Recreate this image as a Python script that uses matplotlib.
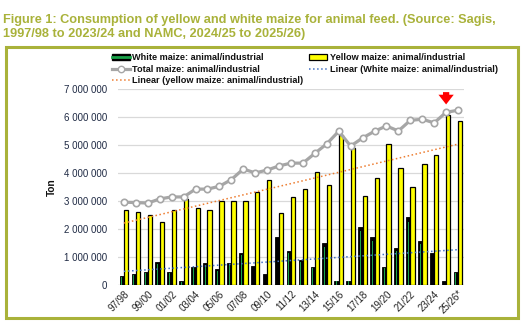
import numpy as np
import matplotlib
matplotlib.use("Agg")
import matplotlib.pyplot as plt
from matplotlib.patches import Patch, Rectangle
from matplotlib.lines import Line2D
from matplotlib.legend_handler import HandlerTuple

# seasons 1997/98 .. 2025/26*
seasons = ["97/98", "98/99", "99/00", "00/01", "01/02", "02/03", "03/04", "04/05",
           "05/06", "06/07", "07/08", "08/09", "09/10", "10/11", "11/12", "12/13",
           "13/14", "14/15", "15/16", "16/17", "17/18", "18/19", "19/20", "20/21",
           "21/22", "22/23", "23/24", "24/25", "25/26*"]
white = [0.30, 0.38, 0.46, 0.80, 0.46, 0.12, 0.65, 0.76, 0.55, 0.79, 1.15, 0.68,
         0.37, 1.69, 1.22, 0.90, 0.65, 1.48, 0.15, 0.13, 2.08, 1.69, 0.64, 1.33,
         2.42, 1.58, 1.12, 0.13, 0.44]
yellow = [2.69, 2.61, 2.48, 2.26, 2.69, 3.05, 2.76, 2.69, 2.98, 2.98, 3.01, 3.33,
          3.73, 2.58, 3.15, 3.44, 4.05, 3.55, 5.37, 4.90, 3.19, 3.80, 5.05, 4.19,
          3.48, 4.33, 4.65, 6.08, 5.85]
total = [2.95, 2.94, 2.92, 3.07, 3.14, 3.14, 3.42, 3.42, 3.52, 3.76, 4.14, 4.00,
         4.10, 4.25, 4.35, 4.35, 4.70, 5.04, 5.49, 4.96, 5.25, 5.49, 5.68, 5.50,
         5.88, 5.92, 5.79, 6.17, 6.24]
yticks = [0, 1e6, 2e6, 3e6, 4e6, 5e6, 6e6, 7e6]
ytick_labels = ["0", "1 000 000", "2 000 000", "3 000 000", "4 000 000",
                "5 000 000", "6 000 000", "7 000 000"]

white = np.array(white) * 1e6
yellow = np.array(yellow) * 1e6
total = np.array(total) * 1e6
x = np.arange(len(seasons))

OLIVE = "#a9b23a"
TXT = "#1f2a44"
plt.rcParams['font.family'] = ['Liberation Sans', 'DejaVu Sans']

fig = plt.figure(figsize=(5.23, 3.25), dpi=100)
fig.patch.set_facecolor("white")

# frame around chart
fig.patches.append(Rectangle((0.0115, 0.0225), 0.978, 0.833, transform=fig.transFigure,
                             fill=False, edgecolor=OLIVE, linewidth=2.2, zorder=0))

fig.text(0.006, 0.958, "Figure 1: Consumption of yellow and white maize for animal feed. (Source: Sagis,\n"
         "1997/98 to 2023/24 and NAMC, 2024/25 to 2025/26)",
         color=OLIVE, fontsize=9.2, fontweight="bold", va="top", ha="left", linespacing=1.3)

ax = fig.add_axes([0.2256, 0.124, 0.6616, 0.602])
w = 0.36
ax.bar(x - w / 2, white, width=w, color="black", edgecolor="black", linewidth=0.6, zorder=2)
ax.bar(x - w / 2, white * 0.92, width=0.07, color="#1aa34a", linewidth=0, zorder=3)
ax.bar(x + w / 2, yellow, width=w, color="#ffff00", edgecolor="black", linewidth=0.9, zorder=2)

# linear trendlines
pw = np.polyfit(x, white, 1)
py = np.polyfit(x, yellow, 1)
ax.plot(x, np.polyval(pw, x), ls=":", color="#4472c4", lw=1.1, zorder=4)
ax.plot(x, np.polyval(py, x), ls=":", color="#ed7d31", lw=1.1, zorder=4)

ax.plot(x, total, color="#a6a6a6", lw=2.3, marker="o", markersize=4.6,
        markerfacecolor="white", markeredgecolor="#a6a6a6", markeredgewidth=1.2, zorder=5)

# red arrow above 24/25
i = seasons.index("24/25")
ax.annotate("", xy=(i, total[i] + 0.18e6), xytext=(i, total[i] + 0.82e6),
            arrowprops=dict(arrowstyle="simple,head_width=1.1,head_length=0.7,tail_width=0.45",
                            color="#ff0000", lw=0), zorder=6)

ax.set_xlim(-0.5, len(seasons) - 0.5)
ax.set_ylim(0, 7e6)
ax.set_yticks(yticks)
ax.set_yticklabels(ytick_labels, color=TXT, fontsize=7.0)
ax.set_xticks(x[::2])
ax.set_xticklabels(seasons[::2], rotation=45, ha="right", rotation_mode="anchor",
                   fontsize=7.0, color="#222222")
ax.tick_params(axis="both", length=0, pad=8)
ax.tick_params(axis="x", pad=3)
ax.grid(axis="y", color="#d9d9d9", lw=0.9, zorder=0)
ax.set_axisbelow(True)
for s in ax.spines.values():
    s.set_visible(False)
ax.axhline(0, color="#d9d9d9", lw=0.9, zorder=1)
ax.set_ylabel("Ton", fontsize=7.2, fontweight="bold", color="#111111", labelpad=5)

h_white = (Patch(facecolor="black", edgecolor="black"), Line2D([], [], color="#1aa34a", lw=2))
h_yellow = Patch(facecolor="#ffff00", edgecolor="black", linewidth=0.9)
h_total = Line2D([], [], color="#a6a6a6", lw=2.3, marker="o", markersize=4.6,
                 markerfacecolor="white", markeredgecolor="#a6a6a6")
h_lw = Line2D([], [], ls=":", color="#4472c4", lw=1.1)
h_ly = Line2D([], [], ls=":", color="#ed7d31", lw=1.1)
leg = fig.legend([h_white, h_total, h_ly, h_yellow, h_lw],
                 ["White maize: animal/industrial", "Total maize: animal/industrial",
                  "Linear (yellow maize: animal/industrial)", "Yellow maize: animal/industrial",
                  "Linear (White maize: animal/industrial)"],
                 ncol=2, loc="upper left", bbox_to_anchor=(0.203, 0.853), frameon=False,
                 handler_map={tuple: HandlerTuple(ndivide=1)},
                 prop=dict(size=6.6, weight="bold"),
                 handlelength=2.0, handleheight=0.6,
                 handletextpad=0.25, columnspacing=0.6, labelspacing=0.28, borderpad=0.1)
for t in leg.get_texts():
    t.set_color("#111111")

fig.savefig("out.png", dpi=100)
